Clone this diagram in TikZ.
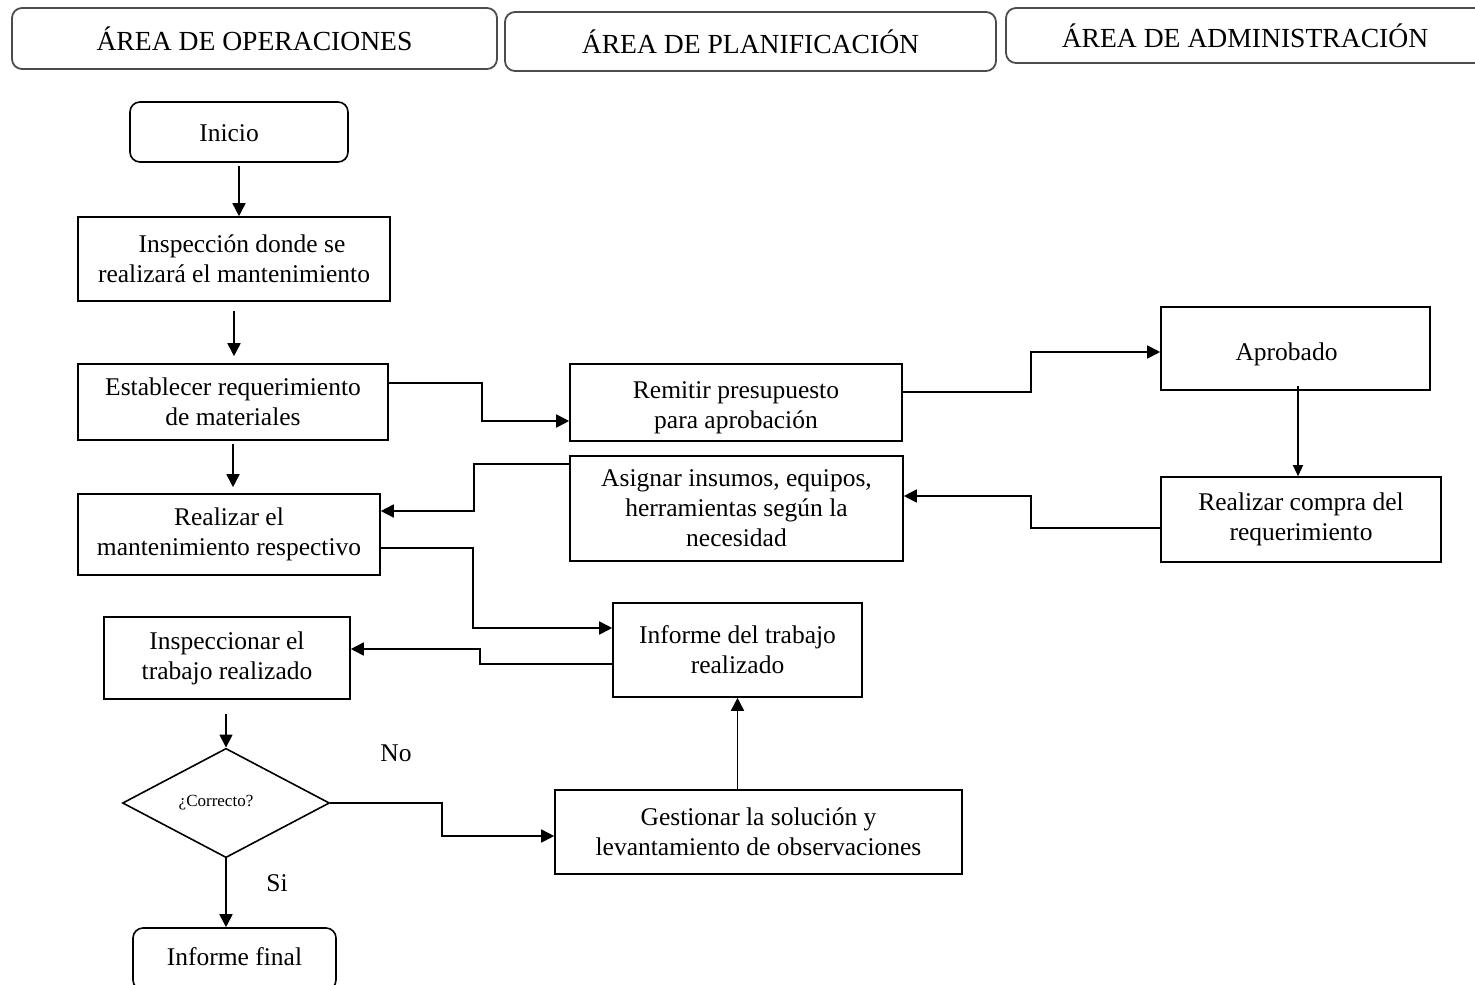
\documentclass[tikz,border=0pt]{standalone}
\usepackage{fontspec}
\setmainfont{Liberation Serif}
\usetikzlibrary{arrows.meta,shapes.geometric,calc}

\begin{document}
\begin{tikzpicture}[x=0.5pt,y=-0.5pt,
  every node/.style={font=\fontsize{12.75}{15}\selectfont},
  box/.style={draw, line width=0.8pt, align=center, inner sep=0pt},
  rbox/.style={box, rounded corners=5pt},
  head/.style={draw=black!70, line width=0.9pt, rounded corners=5pt, inner sep=0pt,
    font=\fontsize{13.8}{16}\selectfont},
  arr/.style={line width=0.85pt, -{Triangle[length=6.5pt,width=6.5pt]}},
  lbl/.style={inner sep=0pt}
]
\clip (0,0) rectangle (1475,984);

% lane headers
\node[head, minimum width=242.5pt, minimum height=30.5pt] (hop) at (254.5,38.5) {ÁREA DE OPERACIONES};
\node[head, minimum width=245.5pt, minimum height=29.5pt] (hpl) at (750.5,41.5) {ÁREA DE PLANIFICACIÓN};
\node[head, minimum width=250pt, minimum height=27.5pt] (had) at (1256,35.5) {\hspace*{-11pt}ÁREA DE ADMINISTRACIÓN};

% process steps
\node[rbox, minimum width=109pt, minimum height=30pt, text height=10pt] (ini) at (239,132) {Inicio\hspace*{10pt}};
\node[box, minimum width=156pt, minimum height=42pt] (insp) at (234,259) {\hspace*{8pt}Inspección donde se\\realizará el mantenimiento};
\node[box, minimum width=155pt, minimum height=38pt] (est) at (233,402) {Establecer requerimiento\\de materiales};
\node[box, minimum width=166pt, minimum height=38.5pt, text height=28.7pt] (rem) at (736,402.5) {Remitir presupuesto\\para aprobación};
\node[box, minimum width=134.5pt, minimum height=41.5pt, text height=14.9pt] (apr) at (1295.5,348.5) {Aprobado\hspace*{9pt}};
\node[box, minimum width=151pt, minimum height=40.5pt] (rea) at (229,534.5) {Realizar el\\mantenimiento respectivo};
\node[box, minimum width=166.5pt, minimum height=52.5pt] (asi) at (736.5,508.5) {Asignar insumos, equipos,\\herramientas según la\\necesidad};
\node[box, minimum width=140pt, minimum height=42.5pt] (com) at (1301,519.5) {Realizar compra del\\requerimiento};
\node[box, minimum width=124.5pt, minimum height=47pt] (inf) at (737.5,650) {Informe del trabajo\\realizado};
\node[box, minimum width=123pt, minimum height=41pt] (ins2) at (227,658) {Inspeccionar el\\trabajo realizado};
\node[box, diamond, minimum width=103.5pt, minimum height=54.5pt,
  font=\fontsize{8.5}{10}\selectfont] (dia) at (226,803) {¿Correcto?\hspace*{10pt}};
\node[box, minimum width=203.5pt, minimum height=42pt] (ges) at (758.5,832) {Gestionar la solución y\\levantamiento de observaciones};
\node[rbox, minimum width=101.5pt, minimum height=31pt] (fin) at (234.5,959) {\raisebox{2.5pt}{Informe final}};

% branch labels
\node[lbl] (no) at (396,753) {No};
\node[lbl] (si) at (277,883) {Si};

% connectors
\draw[arr, shorten <=1.5pt] (ini.south) -- (ini.south |- insp.north);
\draw[arr, shorten <=4.5pt, shorten >=3.5pt] (insp.south) -- (insp.south |- est.north);
\draw[arr, shorten <=1.5pt, shorten >=3pt] (est.south) -- (est.south |- rea.north);
\draw[arr] ($(est.east)+(0,-19)$) -- ++(93,0) |- ($(rem.west)+(0,18.5)$);
\draw[arr] ($(rem.east)+(0,-10.5)$) -- ++(128,0) |- ($(apr.west)+(0,3.5)$);
\draw[line width=0.65pt, -{Triangle[length=5.5pt,width=5pt]}] ($(apr.south)+(2.5,-5)$) -- ($(com.north)+(-3,0)$);
\draw[arr] ($(com.west)+(0,8.5)$) -- ++(-129,0) |- ($(asi.east)+(0,-12.5)$);
\draw[arr] ($(asi.west)+(0,-44.5)$) -- ++(-95,0) |- ($(rea.east)+(0,-23.5)$);
\draw[arr] ($(rea.east)+(0,13.5)$) -- ++(92,0) |- ($(inf.west)+(0,-22)$);
\draw[arr] ($(inf.west)+(0,14)$) -- ++(-132,0) |- ($(ins2.east)+(0,-9)$);
\draw[arr, shorten <=7pt] ($(ins2.south)+(-1,0)$) -- (dia.north);
\draw[arr] (dia.east) -- ++(112,0) |- ($(ges.west)+(0,4)$);
\draw[arr] (ges.north -| inf.south) -- (inf.south);
\draw[arr] (dia.south) -- (dia.south |- fin.north);
\end{tikzpicture}
\end{document}
